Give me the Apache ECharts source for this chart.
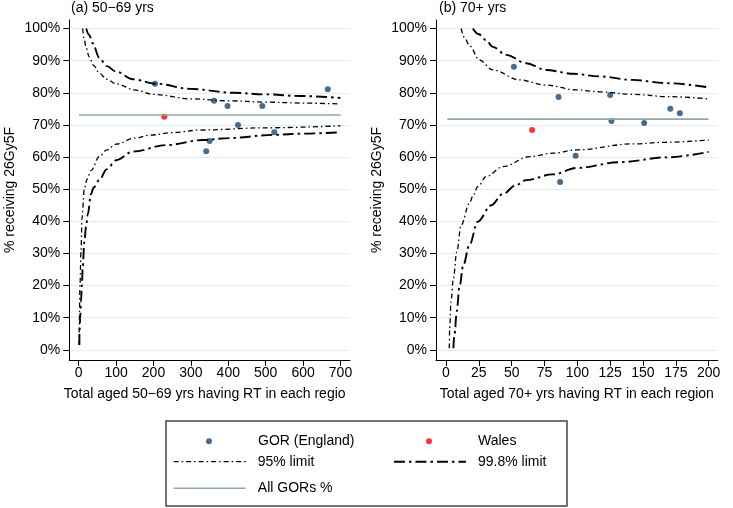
<!DOCTYPE html>
<html><head><meta charset="utf-8">
<script src="https://cdn.jsdelivr.net/npm/echarts@6/dist/echarts.min.js"></script>
<style>html,body{margin:0;padding:0;background:#fff}#c{width:733px;height:508px}</style>
</head><body><div id="c"></div>
<script>
// ---------- data ----------
const yTicks = [0,10,20,30,40,50,60,70,80,90,100];
const xTicksLeft = [0,100,200,300,400,500,600,700];
const xTicksRight = [0,25,50,75,100,125,150,175,200];

const titleLeft = '(a) 50\u221269 yrs';
const titleRight = '(b) 70+ yrs';
const xNameLeft = 'Total aged 50\u221269 yrs having RT in each regio';
const xNameRight = 'Total aged 70+ yrs having RT in each region';
const yName = '% receiving 26Gy5F';

// Left panel (50-69 yrs)
const gorLeftN   = [204, 362, 398, 491, 666, 426, 350, 341, 523];
const gorLeftPct = [82.8, 77.5, 75.9, 75.9, 81.1, 70.0, 65.0, 61.8, 67.7];
const walesLeftN = [229];
const walesLeftPct = [72.5];
const meanLeftN = [1, 700];
const meanLeftPct = [73.1, 73.1];
const lim95UpLeftN   = [10.7,15,20,28,40,55,75,100,150,200,300,400,500,600,700];
const lim95UpLeftPct = [100,96.5,94.0,91.2,88.5,86.1,84.2,82.8,80.9,79.5,78.1,77.5,77.1,76.8,76.5];
const lim95LoLeftN   = [1.2,1.8,3.5,6.2,8.8,15,22,33,55,75,100,150,190,250,325,500,700];
const lim95LoLeftPct = [1.5,9.8,20.2,30.5,40.9,50,53,55.8,60.1,62.2,64.0,65.9,66.8,67.6,68.4,69.1,69.7];
const lim998UpLeftN   = [20,28,37.5,55,75,100,145,207,300,413,500,592,700];
const lim998UpLeftPct = [100,98.0,95.4,90.9,88.3,86.6,84.2,82.8,81.2,80.0,79.5,79.0,78.4];
const lim998LoLeftN   = [1.8,2.2,4,6.2,8.5,10.7,15,20,24,33,40,55,75,100,145,234,332,400,521,600,700];
const lim998LoLeftPct = [1.5,5.6,10,15,20,25.4,33.5,38.5,42,48.5,50.5,52.8,56.2,59.0,61.7,63.7,65.3,65.9,66.9,67.3,67.7];

// Right panel (70+ yrs)
const gorRightN   = [51.7, 85.7, 125, 126, 150.9, 170.8, 178.1, 98.7, 86.9];
const gorRightPct = [88.1, 78.7, 79.3, 71.2, 70.6, 75.0, 73.6, 60.4, 52.2];
const walesRightN = [65.6];
const walesRightPct = [68.4];
const meanRightN = [1, 200];
const meanRightPct = [71.8, 71.8];
const lim95UpRightN   = [11.5,14,18,25.4,35.6,56,76,99,117,142,170,200];
const lim95UpRightPct = [100,97.2,94.6,90.2,87.1,84.0,82.4,80.9,80.3,79.5,78.8,78.1];
const lim998UpRightN   = [20.4,25,30.5,35.6,45.8,61,76,97,117,142,168,200];
const lim998UpRightPct = [100,98.2,96.4,94.3,91.8,89.2,87.1,85.9,85.1,84.0,83.0,81.7];
const lim95LoRightN   = [2.5,2.8,3.8,5.6,8.2,11.5,17.8,20.4,24.2,30.5,43.3,63.6,81.4,99.2,142.5,168,200];
const lim95LoRightPct = [0.5,6.7,15,22.2,30.5,38.8,45.5,47.8,50.8,53.9,57,60.1,61.2,62.2,64.1,64.6,65.3];
const lim998LoRightN   = [5.6,6.5,8.2,10.2,13.2,17.8,24.2,34.4,43.3,53.4,61,81,100,132,168,200];
const lim998LoRightPct = [0.5,5,12,19.5,26.4,32.6,39.9,45,48.5,51.3,52.8,54.6,56.6,58.4,59.9,61.6];

// ---------- styles ----------
const FONT = '"Liberation Sans", Arial, Helvetica, sans-serif';
const NAVY = '#1a476f';
const RED = '#ff0000';
const MEANC = '#8fa8a0';
const DASH95 = [5, 3, 1.5, 3];
const DASH998 = [11, 4, 2.5, 4];
const W95 = 1.3;
const W998 = 1.9;
const CLEAR = 'rgba(0,0,0,0)';

function zip(a, b) { return a.map((v, i) => [v, b[i]]); }

function xAxisFor(gi, min, max, ticks, name, namePad) {
  return {
    gridIndex: gi, type: 'value', min: min, max: max,
    axisLine: { show: true, onZero: false, lineStyle: { color: '#000', width: 1 } },
    axisTick: { show: true, length: 6, customValues: ticks, lineStyle: { color: '#000', width: 1 } },
    axisLabel: { customValues: ticks, margin: 6, fontSize: 14, color: '#000', fontFamily: FONT },
    splitLine: { show: false },
    name: name, nameLocation: 'middle', nameGap: 27,
    nameTextStyle: { fontSize: 14, color: '#000', fontFamily: FONT, padding: namePad }
  };
}
function yAxisFor(gi) {
  return {
    gridIndex: gi, type: 'value', min: -3.17, max: 102.65,
    axisLine: { show: true, onZero: false, lineStyle: { color: '#000', width: 1 } },
    axisTick: { show: true, length: 6, customValues: yTicks, lineStyle: { color: '#000', width: 1 } },
    axisLabel: { customValues: yTicks, margin: 9, fontSize: 14, color: '#000', fontFamily: FONT,
                 formatter: v => v + '%' },
    splitLine: { show: true, lineStyle: { color: '#e3ebee', width: 1 } },
    name: yName, nameLocation: 'middle', nameGap: 52,
    nameTextStyle: { fontSize: 14, color: '#000', fontFamily: FONT }
  };
}

function panelSeries(gi, d) {
  const base = { xAxisIndex: gi, yAxisIndex: gi };
  const line = (name, data, color, width, type) => Object.assign({
    type: 'line', name: name, data: data, symbol: 'none', showSymbol: false,
    smooth: 0.35, smoothMonotone: 'x', clip: true, silent: true,
    itemStyle: { color: CLEAR, borderColor: CLEAR, borderWidth: 0 },
    lineStyle: { color: color, width: width, type: type }
  }, base);
  return [
    line('All GORs %', zip(d.meanN, d.meanPct), MEANC, 1.6, 'solid'),
    line('95% limit', zip(d.u95N, d.u95P), '#000', W95, DASH95),
    line('95% limit', zip(d.l95N, d.l95P), '#000', W95, DASH95),
    line('99.8% limit', zip(d.u998N, d.u998P), '#000', W998, DASH998),
    line('99.8% limit', zip(d.l998N, d.l998P), '#000', W998, DASH998),
    Object.assign({ type: 'scatter', name: 'GOR (England)', data: zip(d.gN, d.gP),
      symbol: 'circle', symbolSize: 6, itemStyle: { color: NAVY }, silent: true }, base),
    Object.assign({ type: 'scatter', name: 'Wales', data: zip(d.wN, d.wP),
      symbol: 'circle', symbolSize: 6, itemStyle: { color: RED }, silent: true }, base)
  ];
}

function lineLegend(name, left, top, lw, color, type) {
  return {
    data: [name], left: left, top: top, itemWidth: 72, itemHeight: 14, padding: 0,
    selectedMode: false,
    itemStyle: { color: CLEAR, borderColor: CLEAR, borderWidth: 0 },
    lineStyle: { width: lw, color: color, type: type },
    textStyle: { fontSize: 14, color: '#000', fontFamily: FONT, padding: [0, 0, 0, 7] }
  };
}
function dotLegend(name, left, top, pad, color) {
  return {
    data: [name], left: left, top: top, itemWidth: 6, itemHeight: 6, padding: 0,
    selectedMode: false, icon: 'circle',
    itemStyle: { color: color },
    textStyle: { fontSize: 14, color: '#000', fontFamily: FONT, padding: [0, 0, 0, pad] }
  };
}

const chart = echarts.init(document.getElementById('c'), null, { renderer: 'canvas' });
chart.setOption({
  animation: false,
  backgroundColor: '#fff',
  title: [
    { text: titleLeft, left: 71, top: 1, padding: 0,
      textStyle: { fontSize: 14, fontWeight: 'normal', color: '#000', fontFamily: FONT } },
    { text: titleRight, left: 439, top: 1, padding: 0,
      textStyle: { fontSize: 14, fontWeight: 'normal', color: '#000', fontFamily: FONT } }
  ],
  grid: [
    { left: 69.3, right: 383, top: 20, bottom: 148, containLabel: false },
    { left: 436, right: 15.3, top: 20, bottom: 148, containLabel: false }
  ],
  xAxis: [
    xAxisFor(0, -25.1, 725.4, xTicksLeft, xNameLeft, [0, 10, 0, 0]),
    xAxisFor(1, -7.62, 206.9, xTicksRight, xNameRight, 0)
  ],
  yAxis: [yAxisFor(0), yAxisFor(1)],
  legend: [
    dotLegend('GOR (England)', 206, 434.3, 41, NAVY),
    dotLegend('Wales', 426, 434.3, 41, RED),
    lineLegend('95% limit', 173, 454.7, W95, '#000', DASH95),
    lineLegend('99.8% limit', 393, 454.7, W998, '#000', DASH998),
    lineLegend('All GORs %', 173, 481.3, 1.6, MEANC, 'solid')
  ],
  graphic: [
    { type: 'rect', shape: { x: 166, y: 421, width: 401, height: 85 },
      style: { fill: 'none', stroke: '#444', lineWidth: 1.5 }, silent: true, z: 0 }
  ],
  series: [].concat(
    panelSeries(0, {
      meanN: meanLeftN, meanPct: meanLeftPct,
      u95N: lim95UpLeftN, u95P: lim95UpLeftPct, l95N: lim95LoLeftN, l95P: lim95LoLeftPct,
      u998N: lim998UpLeftN, u998P: lim998UpLeftPct, l998N: lim998LoLeftN, l998P: lim998LoLeftPct,
      gN: gorLeftN, gP: gorLeftPct, wN: walesLeftN, wP: walesLeftPct
    }),
    panelSeries(1, {
      meanN: meanRightN, meanPct: meanRightPct,
      u95N: lim95UpRightN, u95P: lim95UpRightPct, l95N: lim95LoRightN, l95P: lim95LoRightPct,
      u998N: lim998UpRightN, u998P: lim998UpRightPct, l998N: lim998LoRightN, l998P: lim998LoRightPct,
      gN: gorRightN, gP: gorRightPct, wN: walesRightN, wP: walesRightPct
    })
  )
});
</script></body></html>
